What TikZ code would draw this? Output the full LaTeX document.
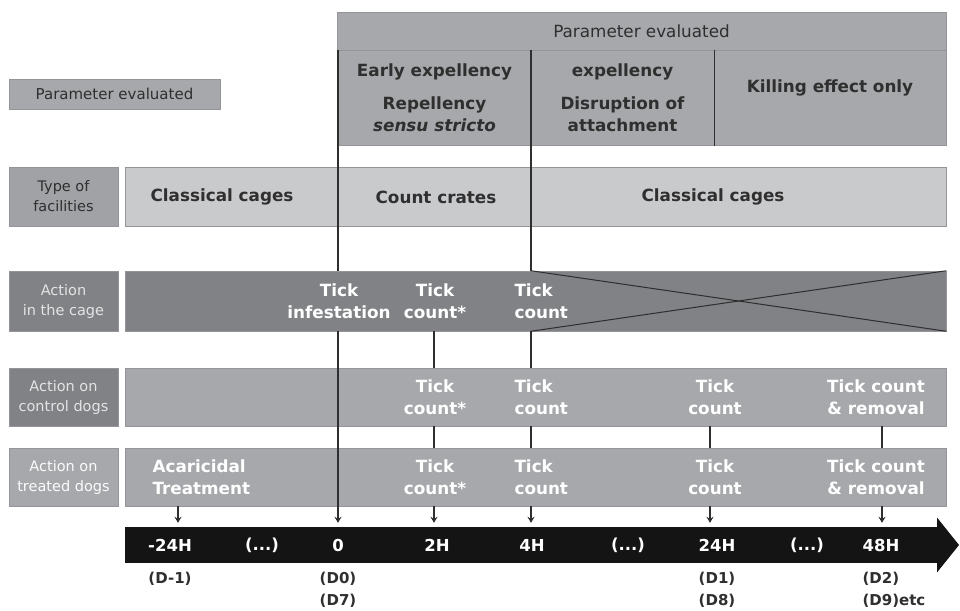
\documentclass[tikz,border=0pt]{standalone}
\usepackage{fontspec}
\setmainfont{DejaVu Sans}
\usetikzlibrary{arrows.meta,positioning}
\definecolor{boxgray}{HTML}{A6A8AB}
\definecolor{palegray}{HTML}{C9CACC}
\definecolor{midgray}{HTML}{A0A2A5}
\definecolor{deepgray}{HTML}{808285}
\definecolor{linegray}{HTML}{2E2E2E}
\definecolor{edgegray}{HTML}{939598}
\definecolor{inkgray}{HTML}{2F2F2F}
\definecolor{softwhite}{HTML}{E4E4E4}

\begin{document}
\begin{tikzpicture}[x=1pt,y=-1pt,
  box/.style={draw=edgegray, line width=0.5pt, rectangle, inner sep=0pt},
  bar/.style={box, minimum width=821pt},
  lbl/.style={box, minimum width=109pt, align=center, font=\fontsize{14.5}{20}\selectfont},
  txt/.style={align=center, font=\fontsize{16.8}{22}\selectfont\bfseries, text=inkgray},
  wtxt/.style={txt, text=white},
  vline/.style={draw=linegray, line width=1.3pt},
  tickarrow/.style={vline, -{Stealth[length=6pt,width=7pt]}, shorten >=4pt},
  ttxt/.style={font=\fontsize{16.5}{18}\selectfont\bfseries, text=white},
  dtxt/.style={font=\fontsize{15}{16}\selectfont\bfseries, text=inkgray}]
\useasboundingbox (0,0) rectangle (960,610);

\node (pe) [box, fill=boxgray, minimum width=211pt, minimum height=30pt, text=inkgray, font=\fontsize{15}{18}\selectfont] at (114.5,94) {Parameter evaluated};

\node (head) [box, fill=boxgray, minimum width=609pt, minimum height=38pt, text=inkgray, font=\fontsize{16.8}{18}\selectfont] at (641.5,31) {Parameter evaluated};
\node (early) [box, fill=boxgray, minimum width=193pt, minimum height=95pt, txt] at (434.5,98) {Early expellency\\[11pt]Repellency\\\textit{sensu stricto}};
\node (disr) [box, fill=boxgray, minimum width=183pt, minimum height=95pt, txt] at (622.5,98) {expellency\\[11pt]Disruption of\\attachment};
\node (kill) [box, fill=boxgray, minimum width=232pt, minimum height=95pt] at (830,97.5) {};
\node (killtxt) [txt] at (830,88) {Killing effect only};

\node (fac) [lbl, fill=midgray, minimum height=59pt, text=inkgray] at (63.5,196.5) {Type of\\facilities};
\node (facbar) [bar, fill=palegray, minimum height=59pt] at (535.5,196.5) {};
\node (cc1) [txt] at (222,197) {Classical cages};
\node (crates) [txt] at (436,197) {Count crates};
\node (cc2) [txt] at (713,197) {Classical cages};

\node (cage) [lbl, fill=deepgray, minimum height=60pt, text=softwhite] at (63.5,301) {Action\\in the cage};
\node (cagebar) [bar, fill=deepgray, minimum height=60pt] at (535.5,301) {};
\node (inf) [wtxt] at (339,301) {Tick\\infestation};
\node (cage2) [wtxt] at (435,301) {Tick\\count*};
\node (cage4) [wtxt, align=left, anchor=west] at (511,301) {Tick\\count};

\node (ctrl) [lbl, fill=deepgray, minimum height=58pt, text=softwhite] at (63.5,397) {Action on\\control dogs};
\node (ctrlbar) [bar, fill=boxgray, minimum height=58pt] at (535.5,397) {};
\node (ctrl2) [wtxt] at (435,397) {Tick\\count*};
\node (ctrl4) [wtxt, align=left, anchor=west] at (511,397) {Tick\\count};
\node (ctrl24) [wtxt] at (715,397) {Tick\\count};
\node (ctrl48) [wtxt] at (876,397) {Tick count\\\& removal};

\node (treat) [lbl, fill=boxgray, minimum height=58pt, text=white!95!boxgray] at (63.5,477) {Action on\\treated dogs};
\node (treatbar) [bar, fill=boxgray, minimum height=58pt] at (535.5,477) {};
\node (acar) [wtxt, align=left, anchor=west] at (149,477) {Acaricidal\\Treatment};
\node (treat2) [wtxt] at (435,477) {Tick\\count*};
\node (treat4) [wtxt, align=left, anchor=west] at (511,477) {Tick\\count};
\node (treat24) [wtxt] at (715,477) {Tick\\count};
\node (treat48) [wtxt] at (876,477) {Tick count\\\& removal};

\node (tl) [rectangle, fill=black!92, minimum width=812pt, minimum height=36pt, inner sep=0pt] at (531,545) {};
\fill[black!92] (tl.north east) -- ++(0,-9) -- (959,545) -- ([yshift=-9pt]tl.south east) -- cycle;

\node (tm24) [ttxt] at (170,545) {-24H};
\node (tdots1) [ttxt] at (262,545) {(...)};
\node (t0) [ttxt] at (338,545) {0};
\node (t2) [ttxt] at (437,545) {2H};
\node (t4) [ttxt] at (532,545) {4H};
\node (tdots2) [ttxt] at (628,545) {(...)};
\node (t24) [ttxt] at (717,545) {24H};
\node (tdots3) [ttxt] at (807,545) {(...)};
\node (t48) [ttxt] at (881,545) {48H};

\node (dm1) [dtxt] at (170,579) {(D-1)};
\node (dd0) [dtxt] at (338,579) {(D0)};
\node (dd7) [dtxt, below of=dd0, node distance=22pt] {(D7)};
\node (dd1) [dtxt] at (717,579) {(D1)};
\node (dd8) [dtxt, below of=dd1, node distance=22pt] {(D8)};
\node (dd2) [dtxt, anchor=west] at (859,579) {(D2)};
\node (dd9) [dtxt, anchor=west] at (859,601) {(D9)etc};

\coordinate (mneg) at (178,0);
\coordinate (mzero) at (338,0);
\coordinate (mtwo) at (434,0);
\coordinate (mfour) at (531,0);
\coordinate (mday1) at (710,0);
\coordinate (mday2) at (882,0);

\draw[vline] (disr.north east) -- (disr.south east);
\draw[vline] (mzero |- head.south) -- (mzero |- cagebar.north);
\draw[tickarrow] (mzero |- cagebar.south) -- (mzero |- tl.north);
\draw[vline] (mfour |- head.south) -- (mfour |- cagebar.north);
\draw[vline, line width=1pt] (mfour |- cagebar.north) -- (cagebar.south east);
\draw[vline, line width=1pt] (mfour |- cagebar.south) -- (cagebar.north east);
\draw[vline] (mfour |- cagebar.south) -- (mfour |- ctrlbar.north);
\draw[vline] (mfour |- ctrlbar.south) -- (mfour |- treatbar.north);
\draw[tickarrow] (mfour |- treatbar.south) -- (mfour |- tl.north);
\draw[vline] (mtwo |- cagebar.south) -- (mtwo |- ctrlbar.north);
\draw[vline] (mtwo |- ctrlbar.south) -- (mtwo |- treatbar.north);
\draw[tickarrow] (mtwo |- treatbar.south) -- (mtwo |- tl.north);
\draw[vline] (mday1 |- ctrlbar.south) -- (mday1 |- treatbar.north);
\draw[tickarrow] (mday1 |- treatbar.south) -- (mday1 |- tl.north);
\draw[vline] (mday2 |- ctrlbar.south) -- (mday2 |- treatbar.north);
\draw[tickarrow] (mday2 |- treatbar.south) -- (mday2 |- tl.north);
\draw[tickarrow] (mneg |- treatbar.south) -- (mneg |- tl.north);
\end{tikzpicture}
\end{document}
